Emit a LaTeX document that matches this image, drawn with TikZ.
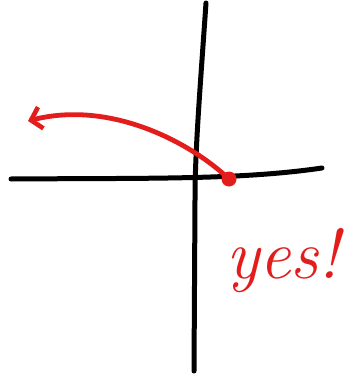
\documentclass[tikz,border=0pt]{standalone}
\usepackage{tikz}
\usetikzlibrary{arrows.meta, positioning}
\definecolor{penred}{rgb}{0.89,0.11,0.11}

\begin{document}
\begin{tikzpicture}[
    x=1pt, y=-1pt,
    axis/.style={line width=5pt, line cap=round, black},
    arr/.style={-{Straight Barb[length=10pt, width=22pt, line width=4.6pt]}, line width=4.8pt, line cap=round, penred},
    dot/.style={circle, fill=penred, inner sep=0pt, minimum size=15pt},
    lab/.style={font=\fontsize{70}{70}\selectfont\itshape, text=penred, inner sep=0pt}
]
\useasboundingbox (0,0) rectangle (344,375);

% axes
\coordinate (ytop) at (206,3);
\coordinate (ybot) at (194,371);
\coordinate (xleft) at (11,179);
\coordinate (xright) at (322,168);

\draw[axis] (ytop) .. controls (200,90) and (195,150) .. (195,200) -- (ybot);
\draw[axis] (xleft) .. controls (150,178) and (240,180) .. (xright);

% point and where it goes
\node[dot] (pt) at (229,179) {};
\coordinate (tip) at (28,121);
\draw[arr] (pt.center) .. controls (190,142) and (110,100) .. (tip);

\node[lab, anchor=base east] (yes) at (340,278) {yes!};

\end{tikzpicture}
\end{document}
